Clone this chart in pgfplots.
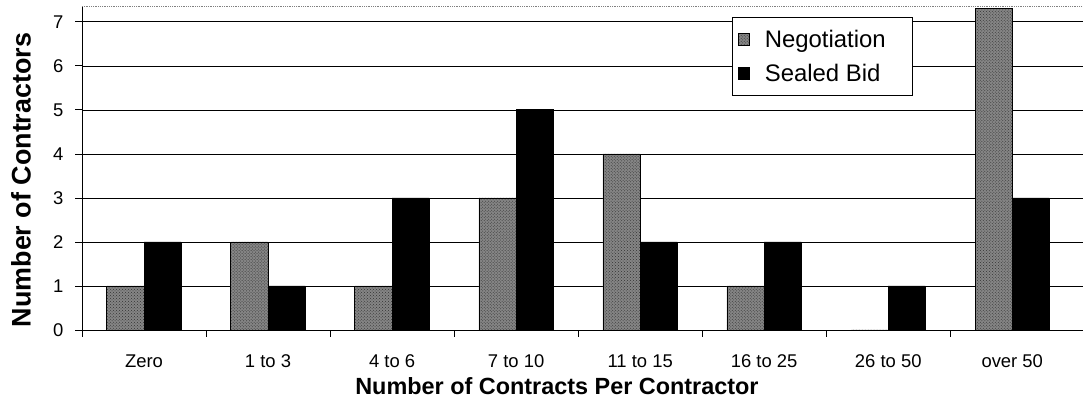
\documentclass[border=0pt]{standalone}
\usepackage{pgfplots}
\pgfplotsset{compat=1.18}
\usetikzlibrary{patterns}
\usepackage{fontspec}
\setmainfont{Liberation Sans}
\pgfplotsset{sqlegend/.style={legend image code/.code={\draw[##1, line width=0.8bp] (4bp,-6bp) rectangle (15bp,6bp); \path[draw=none, fill=none] (0bp,0bp) (28bp,0bp);}}}
\begin{document}
\begin{tikzpicture}
\useasboundingbox (0,0) rectangle (1083bp,400bp);
\begin{axis}[
  at={(82bp,70bp)}, anchor=south west,
  scale only axis, width=1001bp, height=324bp,
  xmin=-0.5, xmax=7.57, ymin=0, ymax=7.36,
  ybar=0pt, bar width=0.3,
  axis x line*=bottom, axis y line*=left,
  axis line style={black, line width=0.8bp, -},
  tick style={black, line width=0.8bp},
  tick align=outside, major tick length=7bp,
  ytick={0,...,7},
  ymajorgrids, grid style={black, line width=0.7bp},
  xtick={-0.5,0.5,...,6.5}, xticklabels={},
  extra x ticks={0,...,7},
  extra x tick labels={Zero,1 to 3,4 to 6,7 to 10,11 to 15,16 to 25,26 to 50,over 50},
  extra x tick style={major tick length=0pt, grid=none},
  xticklabel style={font=\fontsize{18.5}{20}\selectfont, yshift=-21bp},
  yticklabel style={font=\fontsize{18.5}{20}\selectfont, xshift=-8bp},
  /pgf/number format/assume math mode=true,
  xlabel={Number of Contracts Per Contractor},
  ylabel={Number of Contractors},
  xlabel style={at={(axis description cs:0.4745,-0.2)}, anchor=base, font=\fontsize{23.5}{26}\selectfont\bfseries},
  ylabel style={at={(axis description cs:-0.061,0.463)}, anchor=center, font=\fontsize{27}{30}\selectfont\bfseries},
  legend style={at={(0.649,0.966)}, anchor=north west, draw=black, line width=0.8bp,
    font=\fontsize{24}{28}\selectfont, inner xsep=2bp, inner ysep=10.5bp, row sep=11bp,
    nodes={inner xsep=2bp}},
  legend cell align=left,
  after end axis/.code={\draw[gray, densely dotted, line width=0.8bp] (rel axis cs:0,1) -- (rel axis cs:1,1);},
]
\addplot[fill=black!48, draw=black, line width=0.8bp, sqlegend,
  postaction={pattern=crosshatch dots, pattern color=black!80}]
  coordinates {(0,1) (1,2) (2,1) (3,3) (4,4) (5,1) (6,0) (7,7.3)};
\addplot[fill=black, draw=black, line width=0.8bp, sqlegend]
  coordinates {(0,2) (1,1) (2,3) (3,5) (4,2) (5,2) (6,1) (7,3)};
\legend{Negotiation\rule{23bp}{0pt}, Sealed Bid\rule{23bp}{0pt}}
\end{axis}
\end{tikzpicture}
\end{document}
